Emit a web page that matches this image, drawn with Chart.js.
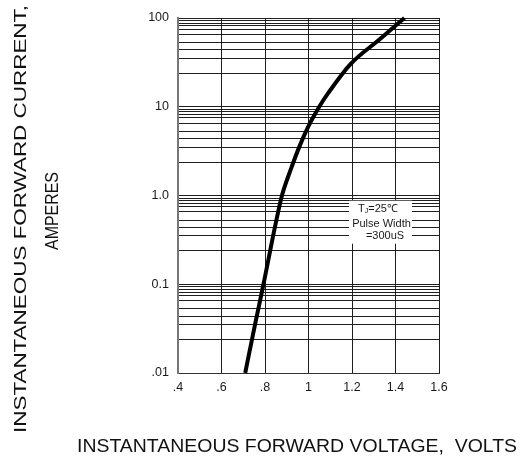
<!DOCTYPE html>
<html>
<head>
<meta charset="utf-8">
<script src="https://cdn.jsdelivr.net/npm/chart.js@4.4.1/dist/chart.umd.min.js"></script>
<style>
  html, body { margin: 0; padding: 0; background: #ffffff; }
  #wrap { width: 525px; height: 462px; }
</style>
</head>
<body>
<div id="wrap"><canvas id="c" width="525" height="462"></canvas></div>
<script>
// ---- data ----
const voltage = [0.709, 0.755, 0.793, 0.848, 0.878, 0.919, 0.959, 1.0, 1.046, 1.092, 1.191, 1.329, 1.441];
const current = [0.01, 0.036, 0.1, 0.47, 1.0, 1.98, 3.6, 6.05, 9.7, 14.4, 29.9, 58, 100];

const xTickValues = [0.4, 0.6, 0.8, 1.0, 1.2, 1.4, 1.6];
const xTickLabels = ['.4', '.6', '.8', '1', '1.2', '1.4', '1.6'];

const yMajorValues = [0.01, 0.1, 1, 10, 100];
const yTickLabels = ['.01', '0.1', '1.0', '10', '100'];
// minor grid lines inside each decade (as multiples of the decade's lower bound)
const yMinorMantissas = [9.37, 8.75, 8.13, 7.5, 6.53, 5.28, 4.37, 3.51, 2.38];

const xTitle = 'INSTANTANEOUS FORWARD VOLTAGE,  VOLTS';
const yTitle1 = 'INSTANTANEOUS FORWARD CURRENT,';
const yTitle2 = 'AMPERES';
const noteLines = ['Pulse Width', '=300uS'];
const noteTj = { main: 'T', sub: 'J', rest: '=25\u2103' };
const noteAnchor = { v: 1.331, i: 0.5 };

// ---- build grid values ----
const yGridValues = [];
yMajorValues.forEach((b, k) => {
  yGridValues.push(b);
  if (k < yMajorValues.length - 1) yMinorMantissas.forEach(m => yGridValues.push(m * b));
});
yGridValues.sort((a, b) => a - b);

const FONT = '"Liberation Sans", Arial, Helvetica, sans-serif';

function drawFitted(ctx, text, cx, cy, rot, size, targetLen) {
  ctx.save();
  ctx.translate(cx, cy);
  ctx.rotate(rot);
  ctx.font = size + 'px ' + FONT;
  const w = ctx.measureText(text).width;
  ctx.scale(targetLen / w, 1);
  ctx.textAlign = 'center';
  ctx.textBaseline = 'middle';
  ctx.fillText(text, 0, 0);
  ctx.restore();
}

const decorPlugin = {
  id: 'decor',
  afterDraw(chart) {
    const ctx = chart.ctx;
    const xs = chart.scales.x, ys = chart.scales.y;
    ctx.save();
    ctx.fillStyle = '#111';
    drawFitted(ctx, yTitle1, 21, 219, -Math.PI / 2, 17, 428);
    drawFitted(ctx, yTitle2, 53, 211, -Math.PI / 2, 18, 78);
    drawFitted(ctx, xTitle, 297, 447, 0, 18, 440);

    // annotation box
    const cx = xs.getPixelForValue(noteAnchor.v);
    const cy = ys.getPixelForValue(noteAnchor.i);
    ctx.fillStyle = '#ffffff';
    ctx.fillRect(cx - 31.5, cy - 21.5, 63, 43);
    ctx.fillStyle = '#1a1a1a';
    ctx.textBaseline = 'middle';
    // line 1 : T_J=25°C
    ctx.font = '11px ' + FONT;
    const wT = ctx.measureText(noteTj.main).width;
    const wR = ctx.measureText(noteTj.rest).width;
    ctx.font = '7px ' + FONT;
    const wJ = ctx.measureText(noteTj.sub).width;
    const total = wT + wJ + wR;
    let x0 = cx - 2.5 - total / 2;
    ctx.textAlign = 'left';
    ctx.font = '11px ' + FONT;
    ctx.fillText(noteTj.main, x0, cy - 13.5);
    ctx.font = '7px ' + FONT;
    ctx.fillText(noteTj.sub, x0 + wT, cy - 11.5);
    ctx.font = '11px ' + FONT;
    ctx.fillText(noteTj.rest, x0 + wT + wJ, cy - 13.5);
    ctx.textAlign = 'center';
    ctx.fillText(noteLines[0], cx + 1, cy + 2);
    ctx.fillText(noteLines[1], cx + 4.5, cy + 14);
    ctx.restore();
  }
};

new Chart(document.getElementById('c'), {
  type: 'line',
  data: {
    datasets: [{
      data: voltage.map((v, i) => ({ x: v, y: current[i] })),
      borderColor: '#000000',
      borderWidth: 4,
      pointRadius: 0,
      cubicInterpolationMode: 'monotone',
      fill: false,
      clip: false
    }]
  },
  options: {
    responsive: false,
    devicePixelRatio: 1,
    animation: false,
    layout: { padding: { left: 0, top: 18, right: 86, bottom: 59 } },
    plugins: { legend: { display: false }, tooltip: { enabled: false } },
    scales: {
      x: {
        type: 'linear',
        min: 0.4,
        max: 1.6,
        afterBuildTicks(scale) { scale.ticks = xTickValues.map(v => ({ value: v })); },
        afterFit(scale) { scale.height = 30; },
        ticks: {
          autoSkip: false,
          padding: 7,
          color: '#1a1a1a',
          font: { family: FONT, size: 12.5 },
          callback: (v, idx) => xTickLabels[idx]
        },
        grid: { color: '#1e1e1e', lineWidth: 1, drawTicks: false },
        border: { color: '#333', width: 1 }
      },
      y: {
        type: 'logarithmic',
        min: 0.01,
        max: 100,
        afterBuildTicks(scale) { scale.ticks = yGridValues.map(v => ({ value: v })); },
        afterFit(scale) { scale.width = 178; },
        ticks: {
          autoSkip: false,
          padding: 9,
          color: '#1a1a1a',
          font: { family: FONT, size: 12.5 },
          callback: (v) => {
            const k = yMajorValues.findIndex(m => Math.abs(m - v) / m < 1e-6);
            return k >= 0 ? yTickLabels[k] : '';
          }
        },
        grid: { color: '#1e1e1e', lineWidth: 1, drawTicks: false },
        border: { color: '#777', width: 2 }
      }
    }
  },
  plugins: [decorPlugin]
});
</script>
</body>
</html>
